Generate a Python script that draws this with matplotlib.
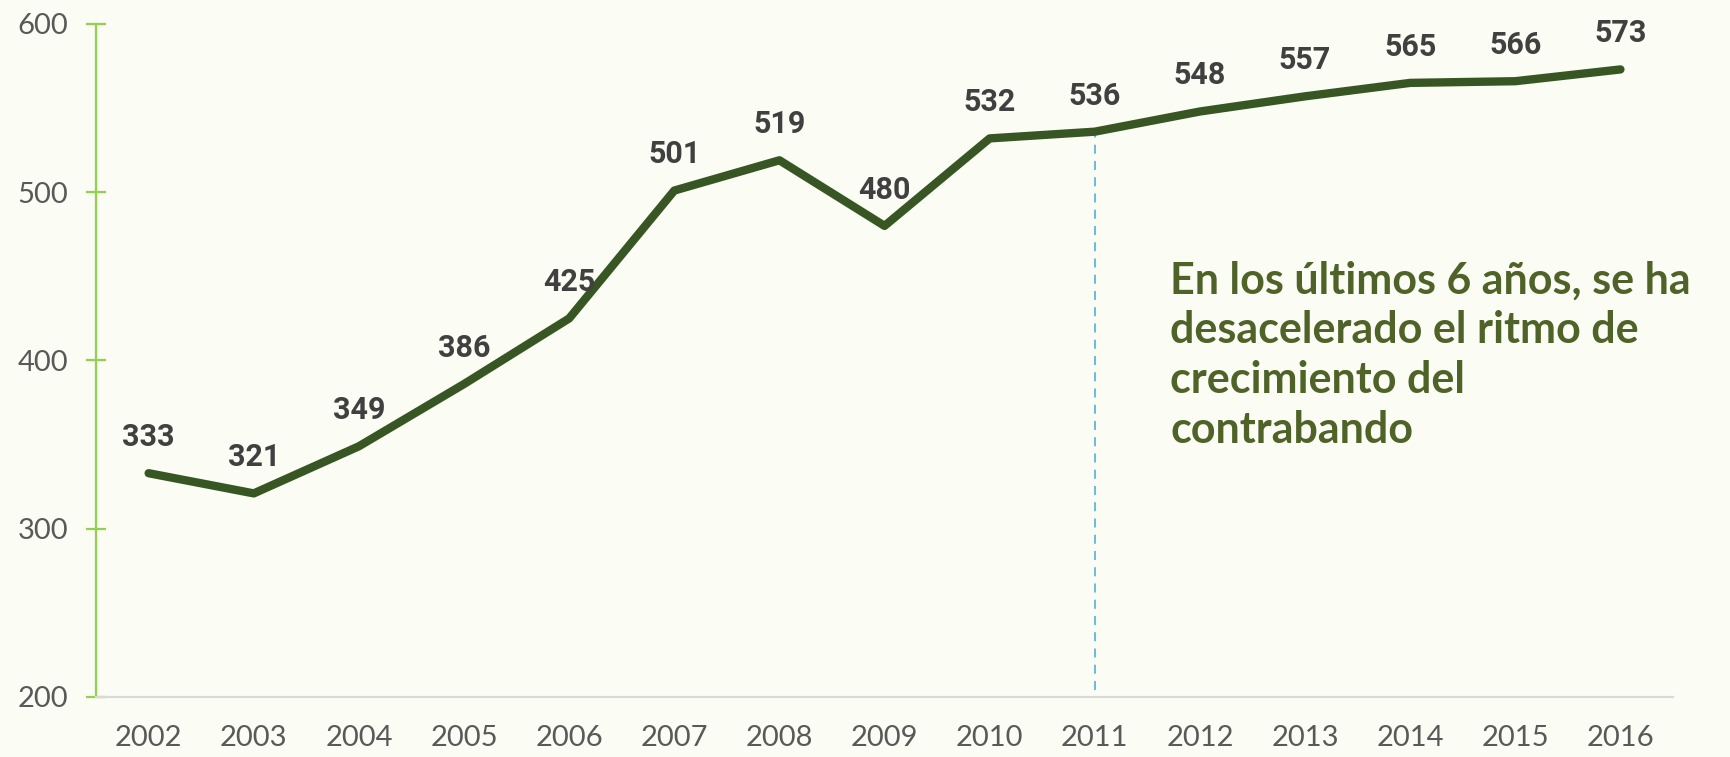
import matplotlib
matplotlib.use("Agg")
import matplotlib.pyplot as plt

# values
years = ["2002", "2003", "2004", "2005", "2006", "2007", "2008", "2009",
         "2010", "2011", "2012", "2013", "2014", "2015", "2016"]
values = [333, 321, 349, 386, 425, 501, 519, 480, 532, 536, 548, 557, 565, 566, 573]
y_ticks = [200, 300, 400, 500, 600]
marker_year = "2011"
note = "En los últimos 6 años, se ha\ndesacelerado el ritmo de\ncrecimiento del\ncontrabando"

bg = "#FBFCF4"
line_color = "#375623"
label_color = "#404040"
note_color = "#4F6228"

fig = plt.figure(figsize=(17.31, 7.57), dpi=100, facecolor=bg)
ax = fig.add_axes([0.0555, 0.0793, 0.911, 0.889])
ax.set_facecolor(bg)

x = list(range(len(years)))
ax.plot(x, values, color=line_color, linewidth=6, solid_capstyle="round", solid_joinstyle="round", zorder=3)

for xi, v in zip(x, values):
    ax.annotate(str(v), (xi, v), xytext=(0, 26), textcoords="offset points",
                ha="center", va="center", fontsize=22, fontweight="bold",
                color=label_color, family=["Roboto", "DejaVu Sans"], zorder=4)

# dashed marker from 2011 down to the axis
mi = years.index(marker_year)
ax.vlines(mi, 204, values[mi], colors="#5BB8D6", linestyles=(0, (5, 4)), linewidth=1.3, zorder=2)

ax.text(9.72, 403, note, ha="left", va="center", fontsize=31, fontweight="bold",
        color=note_color, linespacing=1.3, family=["Lato", "DejaVu Sans"])

ax.set_xlim(-0.5, 14.5)
ax.set_ylim(200, 600)
ax.set_xticks(x)
ax.set_xticklabels(years)
ax.set_yticks(y_ticks)

for s in ["top", "right"]:
    ax.spines[s].set_visible(False)
ax.spines["left"].set_color("#92D050")
ax.spines["left"].set_linewidth(1.6)
ax.spines["bottom"].set_color("#D9D9D9")
ax.spines["bottom"].set_linewidth(1.6)
ax.spines["bottom"].set_zorder(5)

ax.tick_params(axis="y", direction="inout", length=14, width=1.6, color="#92D050",
               labelsize=21, labelcolor="#595959", pad=13)
ax.tick_params(axis="x", length=0, labelsize=21, labelcolor="#595959", pad=20)
for lab in ax.get_xticklabels() + ax.get_yticklabels():
    lab.set_family(["Lato", "DejaVu Sans"])

fig.savefig("out.png", dpi=100, facecolor=bg)
